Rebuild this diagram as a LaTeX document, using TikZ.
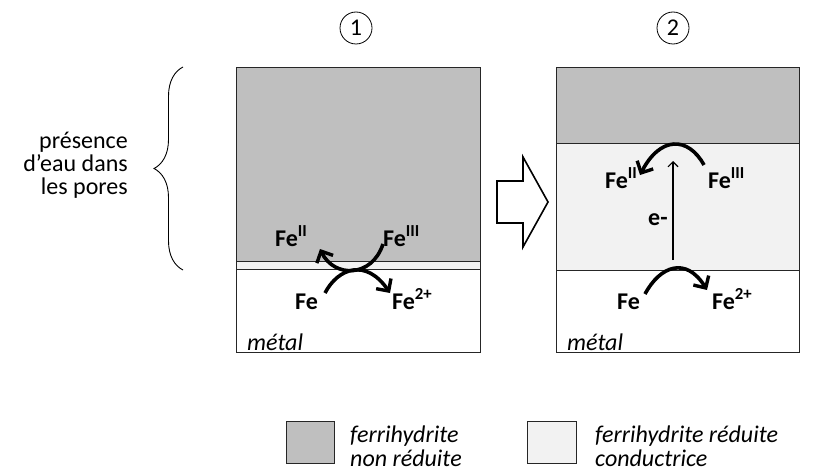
\documentclass[tikz,border=0pt]{standalone}
\usepackage{fontspec}
\setmainfont{Carlito}
\usetikzlibrary{arrows.meta,decorations.pathreplacing}
\definecolor{dgray}{HTML}{BFBFBF}
\definecolor{lgray}{HTML}{F2F2F2}
\definecolor{edge}{HTML}{262626}
\tikzset{
  layer/.style={draw=edge,line width=0.9pt},
  fe/.style={font=\fontsize{24}{24}\selectfont\bfseries,inner sep=0pt},
  lbl/.style={font=\fontsize{24}{24}\selectfont\itshape,inner sep=0pt},
  react/.style={line width=3.6pt,-{Straight Barb[length=9pt,width=18pt,line width=3.4pt]}},
  num/.style={draw,circle,line width=0.8pt,minimum size=32pt,inner sep=0pt,font=\fontsize{24}{24}\selectfont},
}
\begin{document}
\begin{tikzpicture}[x=1pt,y=-1pt]
\useasboundingbox (0,0) rectangle (816,476);
% numbers
\node[num] (n1) at (356,28) {1};
\node[num] (n2) at (673,28) {2};
% box 1
\fill[dgray] (236,67) rectangle (480,261);
\fill[lgray] (236,261) rectangle (480,269);
\draw[layer] (236,67) rectangle (480,352);
\draw[layer] (236,261) -- (480,261);
\draw[layer] (236,269) -- (480,269);
% box 2
\fill[dgray] (556,67) rectangle (799,143);
\fill[lgray] (556,143) rectangle (799,270);
\draw[layer] (556,67) rectangle (799,352);
\draw[layer] (556,143) -- (799,143);
\draw[layer] (556,270) -- (799,270);
% brace and text
\draw[line width=0.9pt,decorate,decoration={brace,amplitude=29pt,aspect=0.5}] (183,270) -- (183,67);
\node[align=right,anchor=east,font=\fontsize{24}{23}\selectfont,inner sep=0pt] (txt) at (128,165) {présence\\d’eau dans\\les pores};
% block arrow
\draw[line width=1.6pt,line join=miter] (497,181) -- (523,181) -- (523,157) -- (548,202) -- (523,247) -- (523,223) -- (497,223) -- cycle;
% box 1 labels
\node[fe,anchor=base west] (fe2a) at (275,246) {Fe\textsuperscript{II}};
\node[fe,anchor=base west] (fe3a) at (383,246) {Fe\textsuperscript{III}};
\node[fe,anchor=base west] (fea) at (295,309) {Fe};
\node[fe,anchor=base west] (fe2pa) at (392,309) {Fe\textsuperscript{2+}};
\node[lbl,anchor=base west] (meta) at (247,350) {métal};
% box 2 labels
\node[fe,anchor=base west] (fe2b) at (605,188) {Fe\textsuperscript{II}};
\node[fe,anchor=base west] (fe3b) at (708,188) {Fe\textsuperscript{III}};
\node[fe,anchor=base west] (efl) at (648,225) {e-};
\node[fe,anchor=base west] (feb) at (617,309) {Fe};
\node[fe,anchor=base west] (fe2pb) at (712,309) {Fe\textsuperscript{2+}};
\node[lbl,anchor=base west] (metb) at (567,350) {métal};
% reaction arrows box 1
\coordinate (a1s) at (325,293);
\coordinate (a1e) at (390,293);
\coordinate (a2s) at (383,244);
\coordinate (a2e) at (320,249);
\draw[react] (a1s) .. controls (338,268) and (366,258) .. (a1e);
\draw[react] (a2s) .. controls (372,278) and (334,278) .. (a2e);
% reaction arrows box 2
\coordinate (b1s) at (645,294);
\coordinate (b1e) at (707,290);
\coordinate (b2s) at (704,165);
\coordinate (b2e) at (640,175);
\coordinate (es) at (673,260);
\coordinate (ee) at (673,161);
\draw[react] (b1s) .. controls (660,266) and (686,256) .. (b1e);
\draw[react] (b2s) .. controls (688,136) and (660,136) .. (b2e);
\draw[line width=1.1pt,-{Straight Barb[length=5pt,width=10pt,line width=1.1pt]}] (es) -- (ee);
% legend
\draw[draw=edge,line width=1pt,fill=dgray] (286,421) rectangle (334,463);
\draw[draw=edge,line width=1pt,fill=lgray] (527,421) rectangle (576,463);
\node[lbl,anchor=base west] (lg1) at (350,442) {ferrihydrite};
\node[lbl,anchor=base west] (lg1b) at (350,466) {non réduite};
\node[lbl,anchor=base west] (lg2) at (595,442) {ferrihydrite réduite};
\node[lbl,anchor=base west] (lg2b) at (595,466) {conductrice};
\end{tikzpicture}
\end{document}
